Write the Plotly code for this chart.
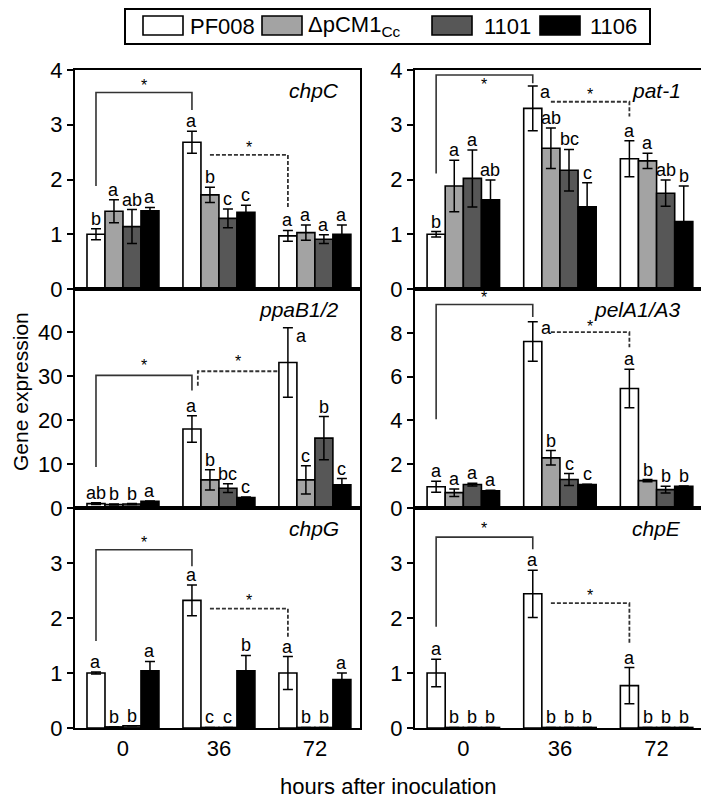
import plotly.graph_objects as go

# ---------------- data ----------------
STRAINS = ["PF008", "ΔpCM1<sub>Cc</sub>", "1101", "1106"]
HOURS = ["0", "36", "72"]
GENES = ["chpC", "pat-1", "ppaB1/2", "pelA1/A3", "chpG", "chpE"]

# rows = strains (PF008, dpCM1Cc, 1101, 1106); columns = 0, 36, 72 h
chpC_mean = [[1.00, 2.68, 0.97], [1.42, 1.72, 1.03], [1.14, 1.29, 0.91], [1.43, 1.40, 1.00]]
chpC_sd = [[0.10, 0.20, 0.10], [0.21, 0.14, 0.14], [0.31, 0.17, 0.08], [0.06, 0.13, 0.17]]
chpC_let = [["b", "a", "a"], ["a", "b", "a"], ["ab", "c", "a"], ["a", "c", "a"]]

pat1_mean = [[1.00, 3.30, 2.38], [1.88, 2.57, 2.34], [2.02, 2.17, 1.75], [1.63, 1.50, 1.23]]
pat1_sd = [[0.05, 0.41, 0.33], [0.47, 0.37, 0.14], [0.52, 0.38, 0.24], [0.36, 0.44, 0.65]]
pat1_let = [["b", "a", "a"], ["a", "ab", "a"], ["a", "bc", "ab"], ["ab", "c", "b"]]

ppaB_mean = [[1.0, 17.95, 33.1], [0.8, 6.4, 6.4], [0.9, 4.5, 15.9], [1.5, 2.4, 5.3]]
ppaB_sd = [[0.2, 3.0, 7.9], [0.1, 2.3, 3.2], [0.1, 1.0, 4.9], [0.1, 0.1, 1.4]]
ppaB_let = [["ab", "a", "a"], ["b", "b", "c"], ["b", "bc", "b"], ["a", "c", "c"]]

pelA_mean = [[0.97, 7.60, 5.46], [0.70, 2.29, 1.25], [1.07, 1.30, 0.84], [0.78, 1.07, 0.99]]
pelA_sd = [[0.25, 0.90, 0.88], [0.17, 0.33, 0.05], [0.06, 0.27, 0.15], [0.03, 0.02, 0.02]]
pelA_let = [["a", "a", "a"], ["a", "b", "b"], ["a", "c", "b"], ["a", "c", "b"]]

chpG_mean = [[1.00, 2.32, 1.00], [0.02, 0.01, 0.01], [0.04, 0.01, 0.01], [1.04, 1.04, 0.88]]
chpG_sd = [[0.02, 0.28, 0.30], [0.0, 0.0, 0.0], [0.0, 0.0, 0.0], [0.17, 0.28, 0.12]]
chpG_let = [["a", "a", "a"], ["b", "c", "b"], ["b", "c", "b"], ["a", "b", "a"]]

chpE_mean = [[1.00, 2.44, 0.77], [0.01, 0.01, 0.01], [0.01, 0.01, 0.01], [0.01, 0.01, 0.01]]
chpE_sd = [[0.25, 0.43, 0.33], [0.0, 0.0, 0.0], [0.0, 0.0, 0.0], [0.0, 0.0, 0.0]]
chpE_let = [["a", "a", "a"], ["b", "b", "b"], ["b", "b", "b"], ["b", "b", "b"]]

# significance brackets: [left end, top, right end] heights
solid_y = [[1.88, 3.59, 3.27], [2.11, 3.91, 3.76], [9.3, 30.15, 26.7],
           [4.05, 9.29, 8.72], [1.58, 3.24, 2.94], [1.84, 3.47, 3.25]]
dashed_y = [[2.45, 2.45, 1.47], [3.42, 3.42, 3.15], [27.8, 31.1, 31.1],
            [8.03, 8.03, 7.34], [2.17, 2.17, 1.64], [2.27, 2.27, 1.52]]
star_solid_y = [3.72, 3.74, 32.3, 9.62, 3.38, 3.62]
star_dashed_y = [2.58, 3.56, 33.3, 8.27, 2.31, 2.41]

Y_RANGES = [[0, 4], [0, 4], [0, 49.8], [0, 10], [0, 4], [0, 4]]
Y_TICKS = [[0, 1, 2, 3, 4], [0, 1, 2, 3, 4], [0, 10, 20, 30, 40], [0, 2, 4, 6, 8], [0, 1, 2, 3], [0, 1, 2, 3]]

MEANS = [chpC_mean, pat1_mean, ppaB_mean, pelA_mean, chpG_mean, chpE_mean]
SDS = [chpC_sd, pat1_sd, ppaB_sd, pelA_sd, chpG_sd, chpE_sd]
LETS = [chpC_let, pat1_let, ppaB_let, pelA_let, chpG_let, chpE_let]

# letters set beside (not above) their error bar: (panel, strain, group, xshift px, yshift px)
LETTER_SHIFTS = [(1, 0, 1, 13, -16), (2, 0, 2, 14, -18), (3, 0, 1, 14, -16)]

# ---------------- style / layout ----------------
FONT = "Liberation Sans, Arial, sans-serif"
COLORS = ["#ffffff", "#a3a3a3", "#575757", "#000000"]
W, H, OFF = 701, 790, 8   # page body has an 8 px margin, so figure is drawn from (8, 8)


def px(xp):
    return (xp - OFF) / W


def py(yp):
    return 1 - (yp - OFF) / H


COL_X = [(px(75), px(360)), (px(415), px(702))]
ROW_Y = [(py(289), py(70)), (py(508), py(289)), (py(728), py(508))]
BAR_OFF = [-0.28125, -0.09375, 0.09375, 0.28125]
GX = [0, 1, 2]

fig = go.Figure()
layout = dict(
    width=W, height=H, margin=dict(l=0, r=0, t=0, b=0, autoexpand=False),
    paper_bgcolor="white", plot_bgcolor="white",
    barmode="group", bargap=0.25, bargroupgap=0,
    showlegend=False, font=dict(family=FONT, size=22, color="black"),
)
annotations = []
shapes = []
shift_map = {(a, b, c): (d, e) for a, b, c, d, e in LETTER_SHIFTS}

for p in range(6):
    n = p + 1
    xa = "x" if n == 1 else f"x{n}"
    ya = "y" if n == 1 else f"y{n}"
    row, col = p // 2, p % 2
    for s in range(4):
        fig.add_trace(go.Bar(
            x=GX, y=MEANS[p][s], xaxis=xa, yaxis=ya, offsetgroup=str(s),
            marker=dict(color=COLORS[s], line=dict(color="black", width=1.6)),
            error_y=dict(type="data", array=SDS[p][s], symmetric=True, color="black",
                         thickness=1.5, width=5),
            name=STRAINS[s], showlegend=False,
        ))
        for g in range(3):
            dx, dy = shift_map.get((p, s, g), (0, 0))
            annotations.append(dict(
                x=GX[g] + BAR_OFF[s], y=MEANS[p][s][g] + SDS[p][s][g], xref=xa, yref=ya,
                text=LETS[p][s][g], showarrow=False, yanchor="bottom", xanchor="center",
                xshift=dx, yshift=-2 + dy, font=dict(size=18, family=FONT)))
    # brackets
    xl, xr = GX[0] + BAR_OFF[0], GX[1] + BAR_OFF[0]
    sy = solid_y[p]
    fig.add_trace(go.Scatter(x=[xl, xl, xr, xr], y=[sy[0], sy[1], sy[1], sy[2]], xaxis=xa, yaxis=ya,
                             mode="lines", line=dict(color="#333333", width=1.6), hoverinfo="skip"))
    annotations.append(dict(x=(xl + xr) / 2, y=star_solid_y[p], xref=xa, yref=ya, text="*",
                            showarrow=False, xanchor="center", yanchor="middle",
                            font=dict(size=16, family=FONT)))
    if p == 2:
        dxl, dxr = GX[1] - 0.22, GX[2] - 0.385
    else:
        dxl, dxr = GX[1] + BAR_OFF[1], GX[2] + BAR_OFF[0]
    dyy = dashed_y[p]
    fig.add_trace(go.Scatter(x=[dxl, dxl, dxr, dxr], y=[dyy[0], dyy[1], dyy[1], dyy[2]], xaxis=xa, yaxis=ya,
                             mode="lines", line=dict(color="#333333", width=1.8, dash="4px,2px"),
                             hoverinfo="skip"))
    annotations.append(dict(x=(dxl + dxr) / 2, y=star_dashed_y[p], xref=xa, yref=ya, text="*",
                            showarrow=False, xanchor="center", yanchor="middle",
                            font=dict(size=16, family=FONT)))
    # gene title
    annotations.append(dict(x=0.935, y=0.905, xref=f"{xa} domain", yref=f"{ya} domain",
                            text=f"<i>{GENES[p]}</i>", showarrow=False, xanchor="right",
                            yanchor="middle", font=dict(size=21, family=FONT)))
    axkey_x = "xaxis" if n == 1 else f"xaxis{n}"
    axkey_y = "yaxis" if n == 1 else f"yaxis{n}"
    layout[axkey_x] = dict(
        domain=list(COL_X[col]), anchor=ya, range=[-0.5, 2.47],
        tickvals=GX, ticktext=HOURS, showticklabels=(row == 2), ticks="",
        showline=True, mirror=True, linecolor="black", linewidth=2, showgrid=False,
        zeroline=False, tickfont=dict(size=22, family=FONT), automargin=False,
    )
    layout[axkey_y] = dict(
        domain=list(ROW_Y[row]), anchor=xa, range=Y_RANGES[p], tickvals=Y_TICKS[p],
        ticks="outside", ticklen=6, tickwidth=1.5, tickcolor="black",
        showline=True, mirror=True, linecolor="black", linewidth=2, showgrid=False,
        zeroline=False, tickfont=dict(size=22, family=FONT), automargin=False,
    )

# axis titles
annotations.append(dict(x=px(388), y=py(786), xref="paper", yref="paper",
                        text="hours after inoculation", showarrow=False,
                        xanchor="center", yanchor="middle", font=dict(size=22, family=FONT)))
annotations.append(dict(x=px(21), y=py(392), xref="paper", yref="paper",
                        text="Gene expression", showarrow=False, textangle=-90,
                        xanchor="center", yanchor="middle", font=dict(size=21, family=FONT)))

# legend (drawn manually to match large swatches)
shapes.append(dict(type="rect", xref="paper", yref="paper", x0=px(125), x1=px(650),
                   y0=py(44), y1=py(9), line=dict(color="black", width=2), fillcolor="white"))
sw_x = [143, 262, 432, 540]
tx_x = [188, 306, 482, 588]
for s in range(4):
    shapes.append(dict(type="rect", xref="paper", yref="paper", x0=px(sw_x[s]), x1=px(sw_x[s] + 40),
                       y0=py(35), y1=py(16), line=dict(color="black", width=1.6),
                       fillcolor=COLORS[s]))
    annotations.append(dict(x=px(tx_x[s]), y=py(26), xref="paper", yref="paper", text=STRAINS[s],
                            showarrow=False, xanchor="left", yanchor="middle",
                            font=dict(size=22, family=FONT)))

layout["annotations"] = annotations
layout["shapes"] = shapes
fig.update_layout(**layout)
fig.write_html("out.html")
